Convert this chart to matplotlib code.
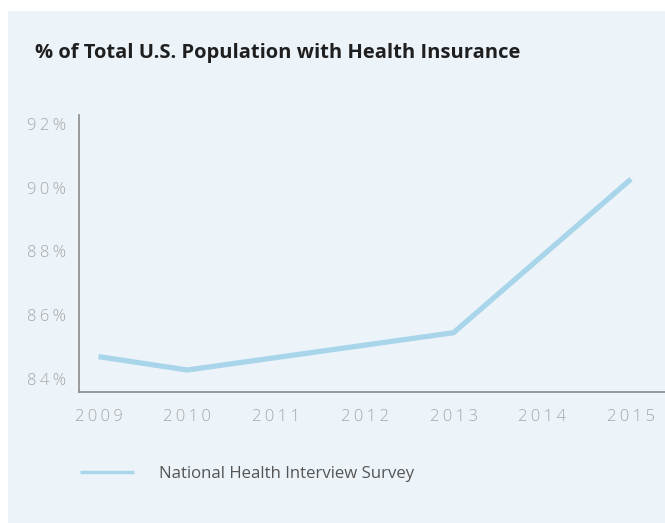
import matplotlib
matplotlib.use("Agg")
import matplotlib.pyplot as plt

# Insured share of the U.S. population by survey year
years = [2009, 2010, 2013, 2015]
insured_pct = [84.70, 84.28, 85.45, 90.27]

x_ticks = [2009, 2010, 2011, 2012, 2013, 2014, 2015]
y_ticks = [84, 86, 88, 90, 92]

title = "% of Total U.S. Population with Health Insurance"
series_name = "National Health Interview Survey"

BG = "#ecf4fa"
LINE = "#a9d5eb"
TICK = "#a6a6a6"
AXIS = "#8a8a8a"

GAP = "\u2009"


def spaced(s):
    return GAP.join(s)


W, H = 665, 523
fig = plt.figure(figsize=(W / 100, H / 100), dpi=100)
fig.patch.set_facecolor("white")

# light panel behind the chart
panel = plt.Rectangle((8 / W, 0), 1 - 8 / W, 1 - 11 / H, transform=fig.transFigure,
                      facecolor=BG, edgecolor="none", zorder=-10)
fig.patches.append(panel)

ax = fig.add_axes([78.7 / W, 1 - 392 / H, 1 - 78.7 / W, (392 - 115) / H])
ax.set_facecolor("none")

line, = ax.plot(years, insured_pct, color=LINE, lw=3.8, solid_joinstyle="miter",
                solid_capstyle="butt", label=series_name)

ax.set_xlim(2008.777, 2015.383)
ax.set_ylim(83.59, 92.28)

ax.set_xticks(x_ticks)
ax.set_xticklabels([spaced(str(y)) for y in x_ticks])
ax.set_yticks(y_ticks)
ax.set_yticklabels([spaced(f"{v}%") for v in y_ticks])

for s in ("top", "right"):
    ax.spines[s].set_visible(False)
for s in ("left", "bottom"):
    ax.spines[s].set_color(AXIS)
    ax.spines[s].set_linewidth(1.2)

ax.tick_params(axis="both", length=0, colors=TICK, labelsize=12)
ax.tick_params(axis="x", pad=12.5)
ax.tick_params(axis="y", pad=9)
for lab in ax.get_xticklabels() + ax.get_yticklabels():
    lab.set_family(["Open Sans", "DejaVu Sans"])
    lab.set_fontweight("light")

fig.text(35 / W, 1 - 53 / H, title, ha="left", va="center", fontsize=14.5,
         fontweight="bold", color="#1f1f1f", family=["Open Sans", "DejaVu Sans"])

leg = ax.legend(handles=[line], loc="center left",
                bbox_to_anchor=(80 / W, 1 - 474 / H), bbox_transform=fig.transFigure,
                frameon=False, borderpad=0, borderaxespad=0,
                handlelength=3.2, handletextpad=1.5,
                prop={"family": ["Open Sans", "DejaVu Sans"], "size": 12.1})
for t in leg.get_texts():
    t.set_color("#555555")
for h in leg.legend_handles:
    h.set_linewidth(2.4)

fig.savefig("out.png", dpi=100, facecolor=fig.get_facecolor())
